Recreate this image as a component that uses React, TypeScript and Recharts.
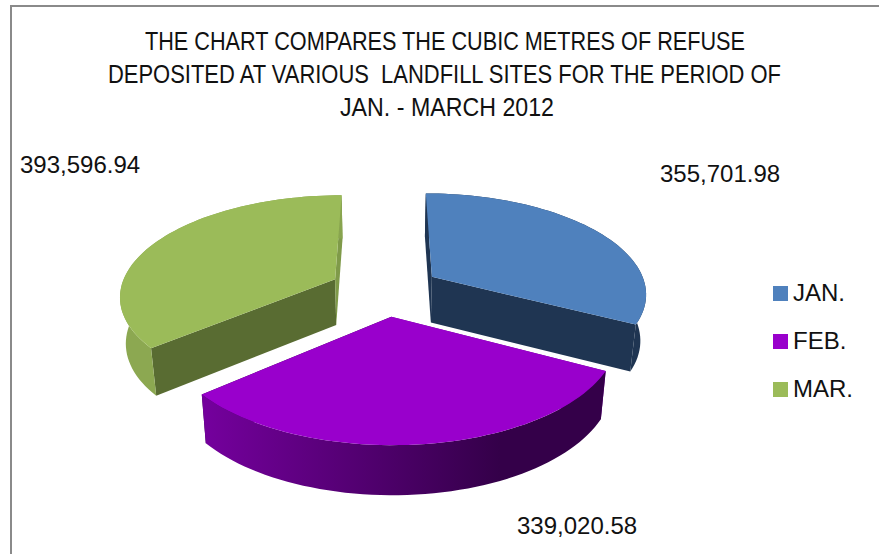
import React from 'react';
import { PieChart, Pie, Legend } from 'recharts';

const categories = ['JAN.', 'FEB.', 'MAR.'];
const values = [355701.98, 339020.58, 393596.94];
const topColors = ['#4F81BD', '#9900CC', '#9BBB59'];

const titleLines = [
  'THE CHART COMPARES THE CUBIC METRES OF REFUSE',
  'DEPOSITED AT VARIOUS  LANDFILL SITES FOR THE PERIOD OF',
  'JAN. - MARCH 2012',
];
const titleLayout = [
  { x: 145, y: 50, w: 600 },
  { x: 108, y: 83, w: 673 },
  { x: 340, y: 116, w: 214 },
];
const labelLayout = [
  { x: 660, y: 182 },
  { x: 517, y: 534 },
  { x: 20, y: 173 },
];
const wallStyles = [
  { start: '#1F3552', end: '#1F3552', outerA: '#1F3552', outerB: '#1F3552' },
  { start: '#6F0096', end: '#35004C', outerA: '#75009E', outerB: '#340049' },
  { start: '#596C32', end: '#7F9A49', outerA: '#8CA851', outerB: '#84A04C' },
];

const tableData = categories.map((name, i) => ({ name, value: values[i], fill: topColors[i] }));

const FONT = '"Liberation Sans", Arial, sans-serif';
const PERSP = 0.1516;
const FLAT = 0.464;
const DEPTH = 0.214;
const DEPTH_PERSP = 0.4;
const SHRINK = 0.978;
const EXPLODE = 0.26;
const RAD = Math.PI / 180;

function Slice3D(props: any) {
  const { cx, cy, outerRadius: r, startAngle, endAngle, index } = props;
  const t0 = 90 - startAngle;
  const t1 = 90 - endAngle;
  const mid = ((t0 + t1) / 2) * RAD;
  const ax = EXPLODE * Math.sin(mid);
  const az = EXPLODE * Math.cos(mid);
  const project = (X: number, Z: number, low: boolean) => {
    const k = 1 / (1 + PERSP * Z);
    let sx = r * X * k;
    let sy = cy - FLAT * r * Z * k;
    if (low) {
      sx *= SHRINK;
      sy += DEPTH * r * Math.pow(k, DEPTH_PERSP);
    }
    return [cx + sx, sy];
  };
  const rim = (deg: number, low: boolean) =>
    project(ax + Math.sin(deg * RAD), az + Math.cos(deg * RAD), low);
  const arc: number[] = [];
  const n = Math.ceil(Math.abs(t1 - t0) / 2);
  for (let i = 0; i <= n; i++) arc.push(t0 + ((t1 - t0) * i) / n);
  const d = (pts: number[][]) =>
    'M' + pts.map((p) => `${p[0].toFixed(2)},${p[1].toFixed(2)}`).join('L') + 'Z';
  const apexT = project(ax, az, false);
  const apexB = project(ax, az, true);
  const topRim = arc.map((a) => rim(a, false));
  const lowRim = arc.map((a) => rim(a, true));
  const st = wallStyles[index];
  const gid = `outer-${index}`;
  return (
    <g>
      <defs>
        <linearGradient id={gid} gradientUnits="userSpaceOnUse" x1={200} y1={0} x2={500} y2={0}>
          <stop offset="0%" stopColor={st.outerA} />
          <stop offset="100%" stopColor={st.outerB} />
        </linearGradient>
      </defs>
      <path d={d([apexT, topRim[0], lowRim[0], apexB])} fill={st.start} />
      <path d={d([apexT, topRim[n], lowRim[n], apexB])} fill={st.end} />
      <path d={d([...topRim, ...[...lowRim].reverse()])} fill={`url(#${gid})`} />
      <path d={d([apexT, ...topRim])} fill={props.fill} />
    </g>
  );
}

function renderLabel(props: any) {
  const pos = labelLayout[props.index];
  return (
    <text x={pos.x} y={pos.y} fontFamily={FONT} fontSize={24} fill="#111" textAnchor="start">
      {values[props.index].toLocaleString('en-US', { minimumFractionDigits: 2 })}
    </text>
  );
}

function LegendBox(props: any) {
  return (
    <div>
      {(props.payload || []).map((p: any) => (
        <div key={p.value} style={{ height: 48, display: 'flex', alignItems: 'center' }}>
          <span style={{ width: 15, height: 15, background: p.color, marginRight: 5, display: 'block' }} />
          <span style={{ fontFamily: FONT, fontSize: 24, color: '#111', lineHeight: '48px' }}>{p.value}</span>
        </div>
      ))}
    </div>
  );
}

export default function App() {
  return (
    <div style={{ position: 'absolute', left: 0, top: 0, width: 879, height: 554, background: '#fff', overflow: 'hidden' }}>
      <div style={{ position: 'absolute', left: 10, top: 5, right: 0, bottom: 0, borderLeft: '2px solid #8a8a8a', borderTop: '2px solid #8a8a8a' }} />
      <PieChart width={879} height={554} margin={{ top: 0, right: 0, bottom: 0, left: 0 }}>
        <Pie
          data={tableData}
          dataKey="value"
          nameKey="name"
          cx={385}
          cy={290}
          outerRadius={215}
          startAngle={90}
          endAngle={-270}
          stroke="none"
          shape={Slice3D}
          label={renderLabel}
          labelLine={false}
          isAnimationActive={false}
        />
        <Legend
          layout="vertical"
          itemSorter={null}
          content={LegendBox}
          wrapperStyle={{ position: 'absolute', left: 773, top: 269, width: 100, height: 144, bottom: 'auto', right: 'auto' }}
        />
        {titleLines.map((t, i) => (
          <text
            key={i}
            x={titleLayout[i].x}
            y={titleLayout[i].y}
            fontFamily={FONT}
            fontSize={25}
            fill="#111"
            textLength={titleLayout[i].w}
            lengthAdjust="spacingAndGlyphs"
            style={{ whiteSpace: 'pre' }}
          >
            {t}
          </text>
        ))}
      </PieChart>
    </div>
  );
}
